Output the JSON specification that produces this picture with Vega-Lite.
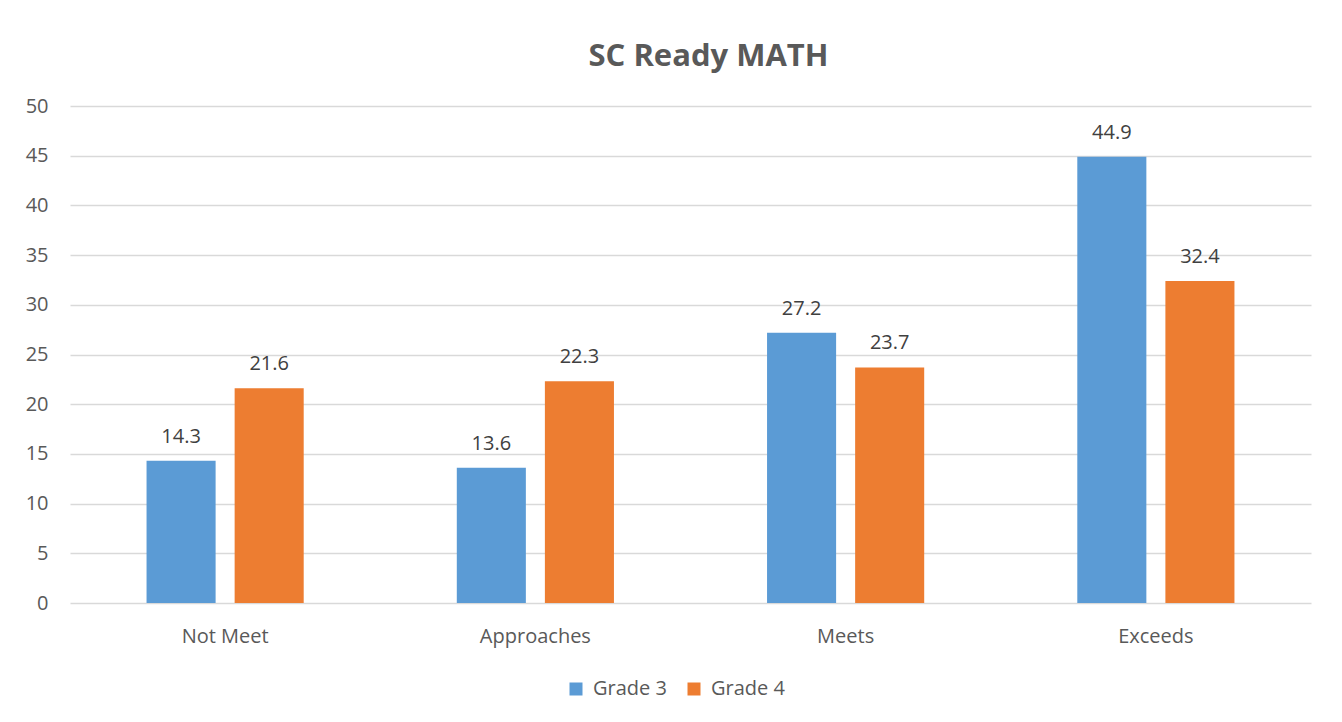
{
  "$schema": "https://vega.github.io/schema/vega-lite/v6.json",
  "width": 1241,
  "height": 497,
  "autosize": {"type": "none"},
  "padding": {"left": 70, "top": 106, "right": 31, "bottom": 119},
  "background": "white",
  "title": {
    "text": "SC Ready MATH",
    "font": "Open Sans",
    "fontSize": 31,
    "fontWeight": "bold",
    "color": "#595959",
    "anchor": "middle",
    "baseline": "alphabetic",
    "offset": -1,
    "dx": 18
  },
  "data": {
    "values": [
      {"level": "Not Meet", "grade": "Grade 3", "value": 14.3},
      {"level": "Not Meet", "grade": "Grade 4", "value": 21.6},
      {"level": "Approaches", "grade": "Grade 3", "value": 13.6},
      {"level": "Approaches", "grade": "Grade 4", "value": 22.3},
      {"level": "Meets", "grade": "Grade 3", "value": 27.2},
      {"level": "Meets", "grade": "Grade 4", "value": 23.7},
      {"level": "Exceeds", "grade": "Grade 3", "value": 44.9},
      {"level": "Exceeds", "grade": "Grade 4", "value": 32.4}
    ]
  },
  "encoding": {
    "x": {
      "field": "level",
      "type": "nominal",
      "sort": ["Not Meet", "Approaches", "Meets", "Exceeds"],
      "scale": {"paddingInner": 0, "paddingOuter": 0},
      "axis": {
        "title": null,
        "labelAngle": 0,
        "ticks": false,
        "domain": false,
        "labelPadding": 23,
        "labelFont": "Open Sans",
        "labelFontSize": 20,
        "labelColor": "#595959"
      }
    },
    "xOffset": {
      "field": "grade",
      "type": "nominal",
      "scale": {"paddingInner": 0.216, "paddingOuter": 0.869}
    },
    "y": {
      "field": "value",
      "type": "quantitative",
      "scale": {"domain": [0, 50]},
      "axis": {
        "title": null,
        "values": [0, 5, 10, 15, 20, 25, 30, 35, 40, 45, 50],
        "ticks": false,
        "domain": false,
        "labelPadding": 22,
        "labelFont": "Open Sans",
        "labelFontSize": 20,
        "labelColor": "#595959",
        "gridColor": "#d9d9d9",
        "gridWidth": 1.3
      }
    },
    "color": {
      "field": "grade",
      "type": "nominal",
      "scale": {"domain": ["Grade 3", "Grade 4"], "range": ["#5b9bd5", "#ed7d31"]},
      "legend": {
        "title": null,
        "orient": "none",
        "direction": "horizontal",
        "legendX": 496,
        "legendY": 573,
        "symbolType": "square",
        "symbolSize": 169,
        "symbolStrokeWidth": 0,
        "labelOffset": 7,
        "columnPadding": 17,
        "labelFont": "Open Sans",
        "labelFontSize": 20,
        "labelColor": "#595959"
      }
    }
  },
  "layer": [
    {"mark": {"type": "bar"}},
    {
      "mark": {
        "type": "text",
        "dy": -24,
        "font": "Open Sans",
        "fontSize": 20,
        "color": "#404040"
      },
      "encoding": {
        "text": {"field": "value", "type": "quantitative", "format": ".1f"},
        "color": {"value": "#404040"}
      }
    }
  ],
  "config": {"view": {"stroke": null}}
}
